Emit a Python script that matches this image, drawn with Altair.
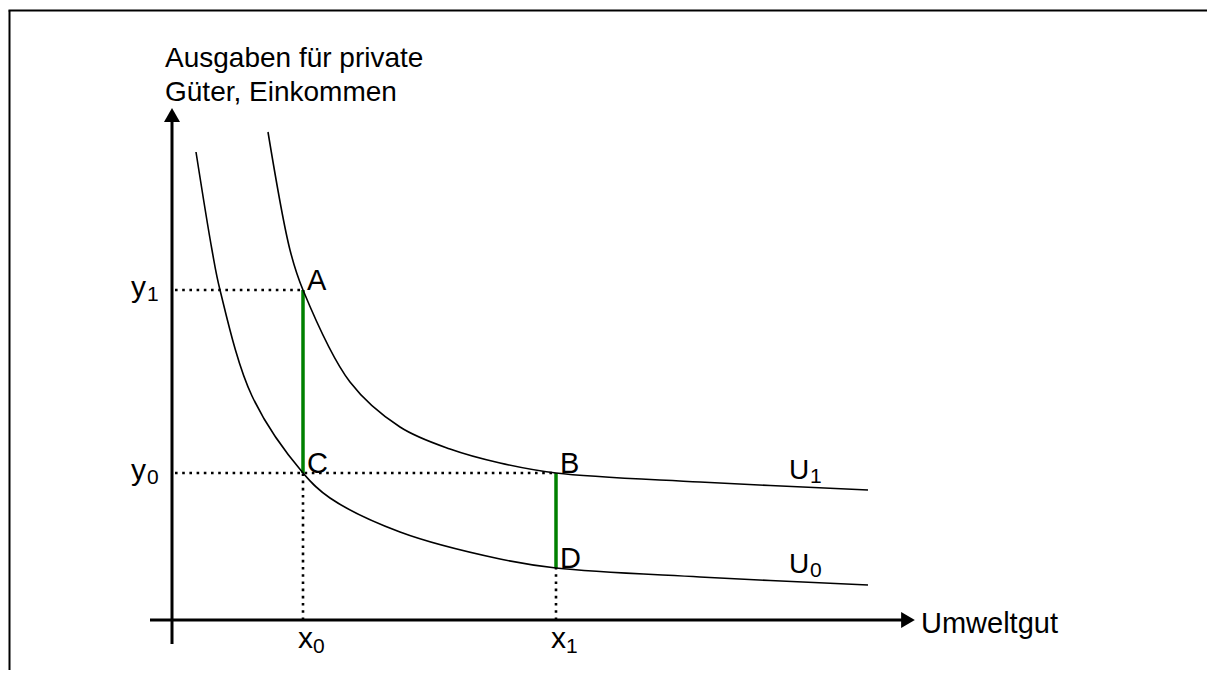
import altair as alt
import pandas as pd

# ---- data (units: 1 = 10 px of the original drawing, origin at axis crossing)
u0_x = [2.4, 4.0, 4.8, 8.0, 13.1, 15.8, 22.8, 32.8, 38.4, 52.8, 69.6]
u0_y = [46.8, 37.0, 33.0, 22.4, 14.7, 12.2, 8.8, 6.1, 5.2, 4.3, 3.5]
u1_x = [9.6, 11.8, 13.1, 17.8, 22.8, 27.8, 32.8, 38.4, 52.8, 69.6]
u1_y = [48.8, 37.0, 33.0, 23.8, 19.3, 17.1, 15.7, 14.7, 13.8, 13.0]

x_levels = [13.1, 38.4]          # x0, x1
x_names = ["x", "x"]
x_subs = ["0", "1"]
y_levels = [14.7, 33.0]          # y0, y1
y_names = ["y", "y"]
y_subs = ["0", "1"]

pt_names = ["A", "C", "B", "D"]
pt_x = [13.1, 13.1, 38.4, 38.4]
pt_y = [33.0, 14.7, 14.7, 5.2]

curve_names = ["U", "U"]
curve_subs = ["1", "0"]
curve_lab_x = [61.7, 61.7]
curve_lab_y = [14.1, 4.7]

y_title = "Ausgaben für private\nGüter, Einkommen"
x_title = "Umweltgut"

X_DOM = [-16.4, 103.5]
Y_DOM = [-5.0, 61.2]
FONT = "Liberation Sans"

xs = alt.Scale(domain=X_DOM, nice=False, zero=False)
ys = alt.Scale(domain=Y_DOM, nice=False, zero=False)


def X(f="x"):
    return alt.X(f"{f}:Q", scale=xs, axis=None)


def Y(f="y"):
    return alt.Y(f"{f}:Q", scale=ys, axis=None)


curves = pd.DataFrame(
    {"x": u0_x + u1_x, "y": u0_y + u1_y,
     "c": ["U0"] * len(u0_x) + ["U1"] * len(u1_x)}
)

curve_layer = alt.Chart(curves).mark_line(
    interpolate="catmull-rom", color="black", strokeWidth=1.6
).encode(x=X(), y=Y(), detail="c:N", order="x:Q")

# axes
axes_df = pd.DataFrame({
    "x": [0.0, -2.2], "y": [-2.4, 0.0],
    "x2": [0.0, 73.3], "y2": [50.0, 0.0],
})
axes_layer = alt.Chart(axes_df).mark_rule(color="black", strokeWidth=3).encode(
    x=X(), y=Y(), x2="x2:Q", y2="y2:Q"
)
arrow_up = alt.Chart(pd.DataFrame({"x": [0.0], "y": [50.5]})).mark_point(
    shape="triangle-up", size=256, filled=True, color="black", opacity=1
).encode(x=X(), y=Y())
arrow_right = alt.Chart(pd.DataFrame({"x": [73.6], "y": [0.0]})).mark_point(
    shape="triangle-right", size=250, filled=True, color="black", opacity=1
).encode(x=X(), y=Y())

# dotted guides
dots_df = pd.DataFrame({
    "x": [0.3, 0.3, x_levels[0], x_levels[1]],
    "x2": [pt_x[0], pt_x[2], x_levels[0], x_levels[1]],
    "y": [y_levels[1], y_levels[0], 0.0, 0.0],
    "y2": [y_levels[1], y_levels[0], y_levels[0], pt_y[3]],
})
dots_layer = alt.Chart(dots_df).mark_rule(
    color="black", strokeWidth=2.6, strokeDash=[2.6, 4.6]
).encode(x=X(), y=Y(), x2="x2:Q", y2="y2:Q")

# green segments
green_df = pd.DataFrame({
    "x": [pt_x[0], pt_x[2]], "y": [pt_y[0], pt_y[2]],
    "y2": [pt_y[1], pt_y[3]],
})
green_layer = alt.Chart(green_df).mark_rule(
    color="#008000", strokeWidth=3.5
).encode(x=X(), y=Y(), y2="y2:Q")

# point letters
pts_df = pd.DataFrame({"t": pt_names, "x": pt_x, "y": pt_y})
pt_text = alt.Chart(pts_df).mark_text(
    font=FONT, fontSize=29, align="left", baseline="alphabetic", dx=4, dy=0
).encode(x=X(), y=Y(), text="t:N")

# x tick labels
xl_df = pd.DataFrame({"x": x_levels, "y": [0.0, 0.0], "t": x_names, "s": x_subs})
xl_main = alt.Chart(xl_df).mark_text(
    font=FONT, fontSize=30, align="left", baseline="alphabetic", dx=-5, dy=28
).encode(x=X(), y=Y(), text="t:N")
xl_sub = alt.Chart(xl_df).mark_text(
    font=FONT, fontSize=21, align="left", baseline="alphabetic", dx=10, dy=33
).encode(x=X(), y=Y(), text="s:N")

# y tick labels
yl_df = pd.DataFrame({"x": [0.0, 0.0], "y": y_levels, "t": y_names, "s": y_subs})
yl_main = alt.Chart(yl_df).mark_text(
    font=FONT, fontSize=30, align="right", baseline="alphabetic", dx=-26, dy=7
).encode(x=X(), y=Y(), text="t:N")
yl_sub = alt.Chart(yl_df).mark_text(
    font=FONT, fontSize=21, align="left", baseline="alphabetic", dx=-25, dy=11
).encode(x=X(), y=Y(), text="s:N")

# curve labels
cl_df = pd.DataFrame({"x": curve_lab_x, "y": curve_lab_y,
                      "t": curve_names, "s": curve_subs})
cl_main = alt.Chart(cl_df).mark_text(
    font=FONT, fontSize=28, align="left", baseline="alphabetic"
).encode(x=X(), y=Y(), text="t:N")
cl_sub = alt.Chart(cl_df).mark_text(
    font=FONT, fontSize=21, align="left", baseline="alphabetic", dx=21, dy=4
).encode(x=X(), y=Y(), text="s:N")

# axis titles
yt = alt.Chart(pd.DataFrame({"x": [-0.7], "y": [55.3], "t": [y_title]})).mark_text(
    font=FONT, fontSize=28, align="left", baseline="alphabetic",
    lineBreak="\n", lineHeight=34
).encode(x=X(), y=Y(), text="t:N")
xt = alt.Chart(pd.DataFrame({"x": [74.9], "y": [-1.3], "t": [x_title]})).mark_text(
    font=FONT, fontSize=29, align="left", baseline="alphabetic"
).encode(x=X(), y=Y(), text="t:N")

# frame (top and left edges of the surrounding box)
frame_left = alt.Chart(pd.DataFrame({"k": [0]})).mark_rule(
    color="black", strokeWidth=2
).encode(x=alt.value(1.5), y=alt.value(2.5), y2=alt.value(662))
frame_top = alt.Chart(pd.DataFrame({"k": [0]})).mark_rule(
    color="black", strokeWidth=2
).encode(x=alt.value(0.5), x2=alt.value(1199), y=alt.value(2.5))

chart = alt.layer(
    frame_left, frame_top,
    dots_layer, green_layer, curve_layer, axes_layer, arrow_up, arrow_right,
    pt_text, xl_main, xl_sub, yl_main, yl_sub, cl_main, cl_sub, yt, xt,
).properties(
    width=1199, height=662,
    padding=0,
    autosize=alt.AutoSizeParams(type="none"),
    background="white",
).configure_view(stroke=None)

chart.save("out.html", embed_options={"renderer": "svg", "actions": False})
